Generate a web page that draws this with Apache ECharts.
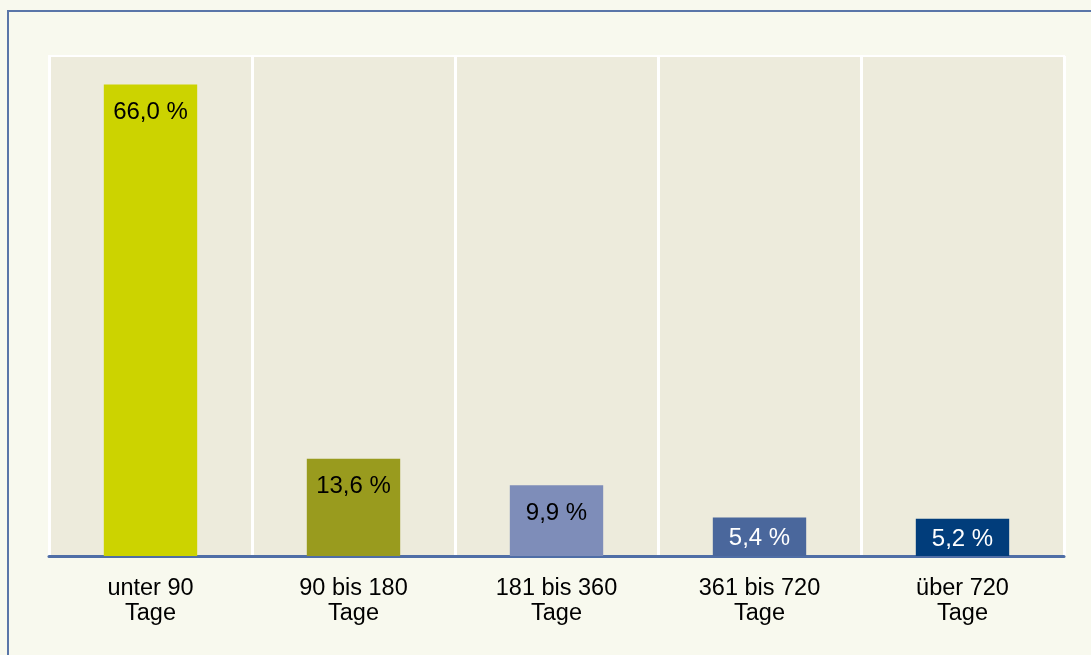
<!DOCTYPE html>
<html>
<head>
    <meta charset="UTF-8">
    <script type="text/javascript" src="https://cdn.jsdelivr.net/npm/echarts@6/dist/echarts.min.js"></script>
    <style>
        html, body { margin: 0; padding: 0; background: #fff; }
        #chart { width: 1091px; height: 655px; }
    </style>
</head>
<body>
    <div id="chart"></div>
    <script type="text/javascript">
    // Kategorien und Werte
    var categories = ['unter 90\nTage', '90 bis 180\nTage', '181 bis 360\nTage', '361 bis 720\nTage', 'über 720\nTage'];
    var values = [66.0, 13.6, 9.9, 5.4, 5.2];
    var barColors = ['#ccd300', '#999b1e', '#7e8db9', '#4a679c', '#013d7b'];
    var labelColors = ['#000', '#000', '#000', '#fff', '#fff'];

    var chart = echarts.init(document.getElementById('chart'));
    var fontFam = "'Liberation Sans', Arial, sans-serif";

    var seriesData = values.map(function (v, i) {
        return {
            value: v,
            itemStyle: { color: barColors[i] },
            // niedrige Balken: Beschriftung etwas tiefer ansetzen
            label: { color: labelColors[i], distance: v < 7 ? 9 : 16 }
        };
    });

    var option = {
        backgroundColor: '#f8f9ee',
        animation: false,
        graphic: [{
            type: 'rect',
            shape: { x: 8, y: 11, width: 1200, height: 700 },
            style: { fill: 'none', stroke: '#5a76a8', lineWidth: 2 },
            z: 100
        }],
        grid: {
            left: 49,
            right: 27,
            top: 56,
            bottom: 99,
            show: true,
            backgroundColor: '#edebdc',
            borderColor: '#ffffff',
            borderWidth: 2
        },
        xAxis: {
            type: 'category',
            data: categories,
            axisTick: { show: false },
            axisLine: { lineStyle: { color: '#4f6ea6', width: 3 } },
            splitLine: { show: true, lineStyle: { color: '#ffffff', width: 3 } },
            axisLabel: {
                color: '#000',
                fontFamily: fontFam,
                fontSize: 23.5,
                lineHeight: 25,
                margin: 20
            }
        },
        yAxis: {
            type: 'value',
            min: 0,
            max: 70,
            show: false,
            splitLine: { show: false }
        },
        series: [{
            type: 'bar',
            data: seriesData,
            barWidth: '46%',
            label: {
                show: true,
                position: 'insideTop',
                fontFamily: fontFam,
                fontSize: 24,
                formatter: function (p) {
                    return p.value.toFixed(1).replace('.', ',') + ' %';
                }
            }
        }]
    };
    chart.setOption(option);
    </script>
</body>
</html>
